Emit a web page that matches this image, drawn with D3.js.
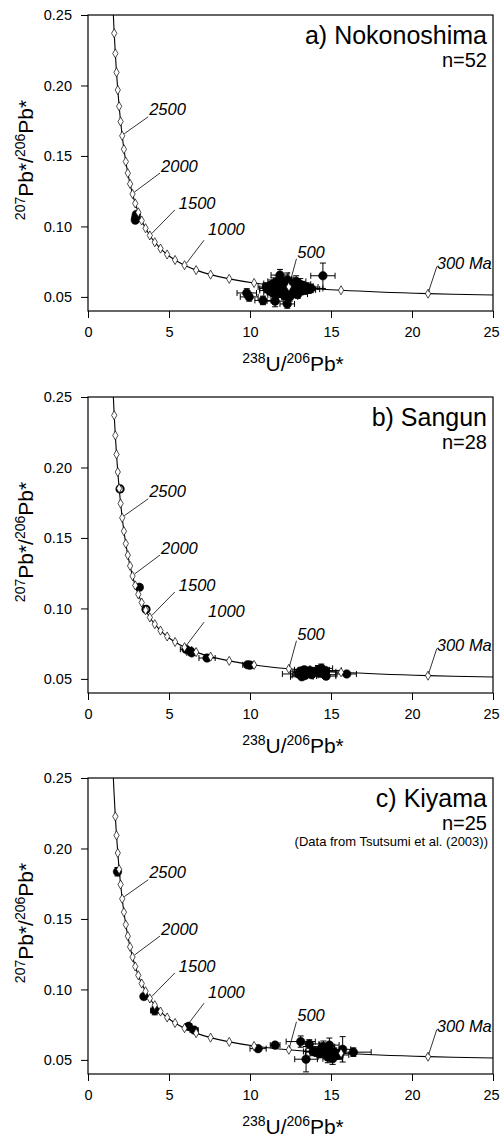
<!DOCTYPE html>
<html><head><meta charset="utf-8">
<script src="https://cdn.jsdelivr.net/npm/d3@7"></script>
<style>
html,body{margin:0;padding:0;background:#fff;}
svg{display:block;}
</style></head>
<body>
<svg id="chart" width="500" height="1138"></svg>
<script>
// ---------- data ----------
const xTicks = [0, 5, 10, 15, 20, 25];
const yTicks = [0.05, 0.10, 0.15, 0.20, 0.25];

// Concordia (Ma, 238U/206Pb, 207Pb/206Pb)
const concAge = [3200, 3100, 3000, 2900, 2800, 2700, 2600, 2500, 2400, 2300, 2200, 2100, 2000, 1900, 1800, 1700, 1600, 1500, 1400, 1300, 1200, 1100, 1000, 900, 800, 700, 600, 500, 400, 300, 253];
const concX = [1.556, 1.619, 1.687, 1.760, 1.838, 1.922, 2.013, 2.111, 2.217, 2.333, 2.458, 2.597, 2.749, 2.918, 3.105, 3.315, 3.554, 3.817, 4.123, 4.476, 4.887, 5.374, 5.959, 6.674, 7.568, 8.718, 10.252, 12.399, 15.621, 20.992, 25.0];
const concY = [0.2524, 0.2370, 0.2227, 0.2093, 0.1968, 0.1852, 0.1744, 0.1643, 0.1548, 0.1460, 0.1378, 0.1302, 0.1230, 0.1163, 0.1100, 0.1042, 0.0987, 0.0936, 0.0888, 0.0843, 0.0801, 0.0762, 0.0725, 0.0690, 0.0658, 0.0628, 0.0599, 0.0572, 0.0547, 0.0523, 0.0513];
const labelAges = [2500, 2000, 1500, 1000, 500, 300];
const labelTexts = ["2500", "2000", "1500", "1000", "500", "300 Ma"];

const panelTitles = ["a) Nokonoshima", "b) Sangun", "c) Kiyama"];
const panelCounts = ["n=52", "n=28", "n=25"];
const panelNotes = ["", "", "(Data from Tsutsumi et al. (2003))"];
const panelMaxMarkerAge = [3100, 3100, 3000];

// a) Nokonoshima
const nokoX = [2.92, 2.95, 2.98, 9.8, 9.95, 10.8, 11.55, 12.3, 11.85, 14.5,
  11.1, 11.2, 11.3, 11.4, 11.45, 11.5, 11.6, 11.65, 11.7, 11.75, 11.8, 11.9, 11.95, 12.0, 12.05, 12.1, 12.15, 12.2, 12.25, 12.3, 12.35, 12.4, 12.5, 12.55, 12.6, 12.65, 12.7, 12.8, 12.85, 12.9, 12.95, 13.0, 13.1, 13.15, 13.2, 13.3, 13.4, 13.5, 13.6, 13.75, 11.0, 12.45];
const nokoY = [0.1045, 0.1065, 0.1085, 0.0528, 0.0500, 0.0475, 0.0470, 0.0450, 0.0655, 0.0650,
  0.0560, 0.0545, 0.0580, 0.0530, 0.0595, 0.0555, 0.0515, 0.0570, 0.0610, 0.0540, 0.0585, 0.0525, 0.0560, 0.0600, 0.0545, 0.0575, 0.0510, 0.0590, 0.0555, 0.0620, 0.0535, 0.0570, 0.0550, 0.0600, 0.0525, 0.0580, 0.0560, 0.0540, 0.0610, 0.0570, 0.0520, 0.0555, 0.0590, 0.0545, 0.0575, 0.0560, 0.0550, 0.0570, 0.0555, 0.0560, 0.0570, 0.0500];
const nokoEx = [0.08, 0.08, 0.08, 0.6, 0.55, 0.5, 0.5, 0.45, 0.55, 0.75,
  0.5, 0.6, 0.5, 0.55, 0.6, 0.5, 0.5, 0.55, 0.6, 0.5, 0.5, 0.55, 0.6, 0.55, 0.5, 0.6, 0.5, 0.55, 0.6, 0.6, 0.55, 0.5, 0.6, 0.55, 0.55, 0.6, 0.6, 0.55, 0.6, 0.65, 0.6, 0.6, 0.65, 0.65, 0.7, 0.7, 0.65, 0.7, 0.7, 0.75, 0.5, 0.5];
const nokoEy = [0.0015, 0.0015, 0.0015, 0.003, 0.003, 0.003, 0.004, 0.003, 0.004, 0.009,
  0.003, 0.003, 0.004, 0.003, 0.004, 0.003, 0.003, 0.004, 0.004, 0.003, 0.003, 0.003, 0.004, 0.004, 0.003, 0.003, 0.003, 0.004, 0.003, 0.005, 0.003, 0.003, 0.003, 0.004, 0.003, 0.004, 0.003, 0.003, 0.004, 0.003, 0.003, 0.003, 0.004, 0.003, 0.003, 0.003, 0.003, 0.003, 0.003, 0.003, 0.003, 0.003];
const nokoOpen = [];

// b) Sangun
const sanX = [1.98, 3.17, 3.58, 6.05, 6.35, 6.4, 7.35, 9.85, 10.0, 15.97,
  13.0, 13.1, 13.2, 13.25, 13.35, 13.4, 13.5, 13.6, 13.7, 13.8, 14.0, 14.2, 14.3, 14.4, 14.5, 14.6, 14.7, 14.65];
const sanY = [0.1848, 0.1150, 0.0994, 0.0710, 0.0695, 0.0685, 0.0648, 0.0600, 0.0598, 0.0535,
  0.0535, 0.0555, 0.0515, 0.0545, 0.0565, 0.0525, 0.0550, 0.0540, 0.0560, 0.0530, 0.0550, 0.0565, 0.0540, 0.0575, 0.0550, 0.0530, 0.0520, 0.0560];
const sanEx = [0.04, 0.06, 0.06, 0.35, 0.3, 0.3, 0.5, 0.3, 0.3, 0.6,
  1.0, 0.6, 0.7, 0.6, 0.6, 0.8, 0.6, 0.6, 0.7, 0.6, 0.6, 0.7, 0.6, 0.7, 0.8, 0.7, 0.6, 1.0];
const sanEy = [0.0015, 0.0015, 0.0015, 0.0015, 0.0015, 0.0015, 0.0015, 0.0015, 0.0015, 0.0015,
  0.002, 0.002, 0.002, 0.002, 0.002, 0.002, 0.002, 0.002, 0.002, 0.002, 0.002, 0.003, 0.002, 0.003, 0.002, 0.002, 0.002, 0.002];
const sanOpen = [0, 2];

// c) Kiyama
const kiyX = [1.82, 3.45, 4.12, 6.2, 6.55, 10.5, 11.55, 13.13, 13.66, 13.46, 14.53, 14.9, 14.12, 14.94, 15.72, 16.38, 14.3, 14.6, 14.8, 15.0, 15.2, 14.4, 15.5, 13.9, 15.1];
const kiyY = [0.1835, 0.0950, 0.0850, 0.0738, 0.0712, 0.0580, 0.0605, 0.0630, 0.0613, 0.0505, 0.0594, 0.0605, 0.0555, 0.0532, 0.0575, 0.0555, 0.0545, 0.0560, 0.0520, 0.0545, 0.0555, 0.0580, 0.0535, 0.0560, 0.0508];
const kiyEx = [0.05, 0.1, 0.25, 0.2, 0.25, 0.5, 0.3, 0.9, 0.6, 0.7, 0.7, 0.6, 0.7, 0.8, 0.5, 1.1, 0.6, 0.7, 0.6, 0.7, 0.6, 0.7, 0.6, 0.6, 0.6];
const kiyEy = [0.003, 0.0015, 0.003, 0.0015, 0.0015, 0.002, 0.0015, 0.004, 0.003, 0.009, 0.004, 0.005, 0.003, 0.004, 0.009, 0.003, 0.003, 0.004, 0.004, 0.003, 0.003, 0.004, 0.003, 0.003, 0.004];
const kiyOpen = [];

// ---------- layout ----------
const panelTops = [15, 397, 778];
const L = 88, R = 493, H = 296;
// leader line / label offsets in px (line end dx,dy ; text dx,dy)
const labelLayout = {
  2500: [26, -19, 27, -21],
  2000: [27.5, -21, 28.5, -22.4],
  1500: [25, -25.5, 29, -26.5],
  1000: [19.5, -25, 23.5, -30],
  500: [7.6, -28, 8.4, -28.5],
  300: [8.7, -27, 8.7, -24.5]
};
const FONT = "'Liberation Sans', Arial, sans-serif";

const svg = d3.select("#chart");
const x = d3.scaleLinear().domain([0, 25]).range([L, R]);
const y = d3.scaleLinear().domain([0.04, 0.25]).range([H, 0]);

const conc = concAge.map((a, i) => ({age: a, x: concX[i], y: concY[i]}));

const datasets = [
  {X: nokoX, Y: nokoY, EX: nokoEx, EY: nokoEy, open: nokoOpen},
  {X: sanX, Y: sanY, EX: sanEx, EY: sanEy, open: sanOpen},
  {X: kiyX, Y: kiyY, EX: kiyEx, EY: kiyEy, open: kiyOpen}
];

datasets.forEach((ds, p) => {
  const g = svg.append("g").attr("transform", `translate(0,${panelTops[p]})`);
  const clipId = "clip" + p;
  g.append("clipPath").attr("id", clipId).append("rect")
    .attr("x", L).attr("y", 0).attr("width", R - L).attr("height", H);

  // axes
  const ya = g.append("g").attr("transform", `translate(${L},0)`)
    .call(d3.axisLeft(y).tickValues(yTicks).tickFormat(d3.format(".2f")).tickSize(7).tickPadding(9));
  const xa = g.append("g").attr("transform", `translate(0,${H})`)
    .call(d3.axisBottom(x).tickValues(xTicks).tickFormat(d3.format("d")).tickSize(7).tickPadding(9));
  [ya, xa].forEach(a => {
    a.select(".domain").remove();
    a.selectAll("line").attr("stroke", "#000").attr("stroke-width", 1);
    a.selectAll("text").attr("font-family", FONT).attr("font-size", 14.5).attr("fill", "#000");
  });
  xa.selectAll(".tick text").filter(d => d === 25).attr("dx", -2);

  // frame
  g.append("rect").attr("x", L).attr("y", 0).attr("width", R - L).attr("height", H)
    .attr("fill", "none").attr("stroke", "#000").attr("stroke-width", 1.2);

  const pts = ds.X.map((v, i) => ({x: v, y: ds.Y[i], ex: ds.EX[i], ey: ds.EY[i], open: ds.open.includes(i)}));
  const plot = g.append("g").attr("clip-path", `url(#${clipId})`);

  // error bars
  const eb = plot.append("g").attr("stroke", "#000").attr("stroke-width", 1).attr("fill", "none");
  const cap = 3;
  pts.forEach(d => {
    const cx = x(d.x), cy = y(d.y);
    const x0 = x(d.x - d.ex), x1 = x(d.x + d.ex), y0 = y(d.y - d.ey), y1 = y(d.y + d.ey);
    eb.append("path").attr("d",
      `M${x0},${cy}H${x1}M${x0},${cy - cap}V${cy + cap}M${x1},${cy - cap}V${cy + cap}` +
      `M${cx},${y0}V${y1}M${cx - cap},${y0}H${cx + cap}M${cx - cap},${y1}H${cx + cap}`);
  });
  // points
  plot.append("g").selectAll("circle").data(pts).join("circle")
    .attr("cx", d => x(d.x)).attr("cy", d => y(d.y))
    .attr("r", d => d.open ? 3.6 : 4.3)
    .attr("fill", d => d.open ? "#fff" : "#000")
    .attr("stroke", "#000").attr("stroke-width", d => d.open ? 2 : 0.5);

  // concordia
  plot.append("path").datum(conc)
    .attr("d", d3.line().x(d => x(d.x)).y(d => y(d.y)).curve(d3.curveCatmullRom))
    .attr("fill", "none").attr("stroke", "#000").attr("stroke-width", 1.1);
  const markers = conc.filter(d => d.age % 100 === 0 && d.age <= panelMaxMarkerAge[p]);
  plot.append("g").selectAll("path").data(markers).join("path")
    .attr("transform", d => `translate(${x(d.x)},${y(d.y)})`)
    .attr("d", d3.symbol().type(d3.symbolDiamond).size(24))
    .attr("fill", "#fff").attr("stroke", "#000").attr("stroke-width", 0.7);

  // age labels
  labelAges.forEach((a, i) => {
    const c = conc.find(d => d.age === a);
    const mx = x(c.x), my = y(c.y);
    const o = labelLayout[a];
    g.append("line").attr("x1", mx + (o[0] > 15 ? 2 : 0.5)).attr("y1", my - 2)
      .attr("x2", mx + o[0]).attr("y2", my + o[1])
      .attr("stroke", "#000").attr("stroke-width", 0.8);
    g.append("text").attr("x", mx + o[2]).attr("y", my + o[3])
      .attr("font-family", FONT).attr("font-style", "italic").attr("font-size", 16.5)
      .attr("fill", "#000").text(labelTexts[i]);
  });

  // titles
  g.append("text").attr("x", 487).attr("y", 28.5).attr("text-anchor", "end")
    .attr("font-family", FONT).attr("font-size", 25).attr("fill", "#000").text(panelTitles[p]);
  g.append("text").attr("x", 487).attr("y", 52).attr("text-anchor", "end")
    .attr("font-family", FONT).attr("font-size", 20).attr("fill", "#000").text(panelCounts[p]);
  if (panelNotes[p]) {
    g.append("text").attr("x", 488).attr("y", 68).attr("text-anchor", "end")
      .attr("font-family", FONT).attr("font-size", 13).attr("fill", "#000").text(panelNotes[p]);
  }

  // x axis title
  const xt = g.append("text").attr("x", 293).attr("y", H + 60).attr("text-anchor", "middle")
    .attr("font-family", FONT).attr("fill", "#000");
  xt.append("tspan").attr("font-size", 14).attr("dy", -8).text("238");
  xt.append("tspan").attr("font-size", 21).attr("dy", 8).text("U/");
  xt.append("tspan").attr("font-size", 14).attr("dy", -8).text("206");
  xt.append("tspan").attr("font-size", 21).attr("dy", 8).text("Pb*");

  // y axis title
  const yt = g.append("text").attr("transform", `translate(33,${H / 2 - 3}) rotate(-90)`)
    .attr("text-anchor", "middle").attr("font-family", FONT).attr("fill", "#000");
  yt.append("tspan").attr("font-size", 14).attr("dy", -8).text("207");
  yt.append("tspan").attr("font-size", 21).attr("dy", 8).text("Pb*");
  yt.append("tspan").attr("font-size", 21).text("/");
  yt.append("tspan").attr("font-size", 14).attr("dy", -8).text("206");
  yt.append("tspan").attr("font-size", 21).attr("dy", 8).text("Pb*");
});
</script>
</body></html>
